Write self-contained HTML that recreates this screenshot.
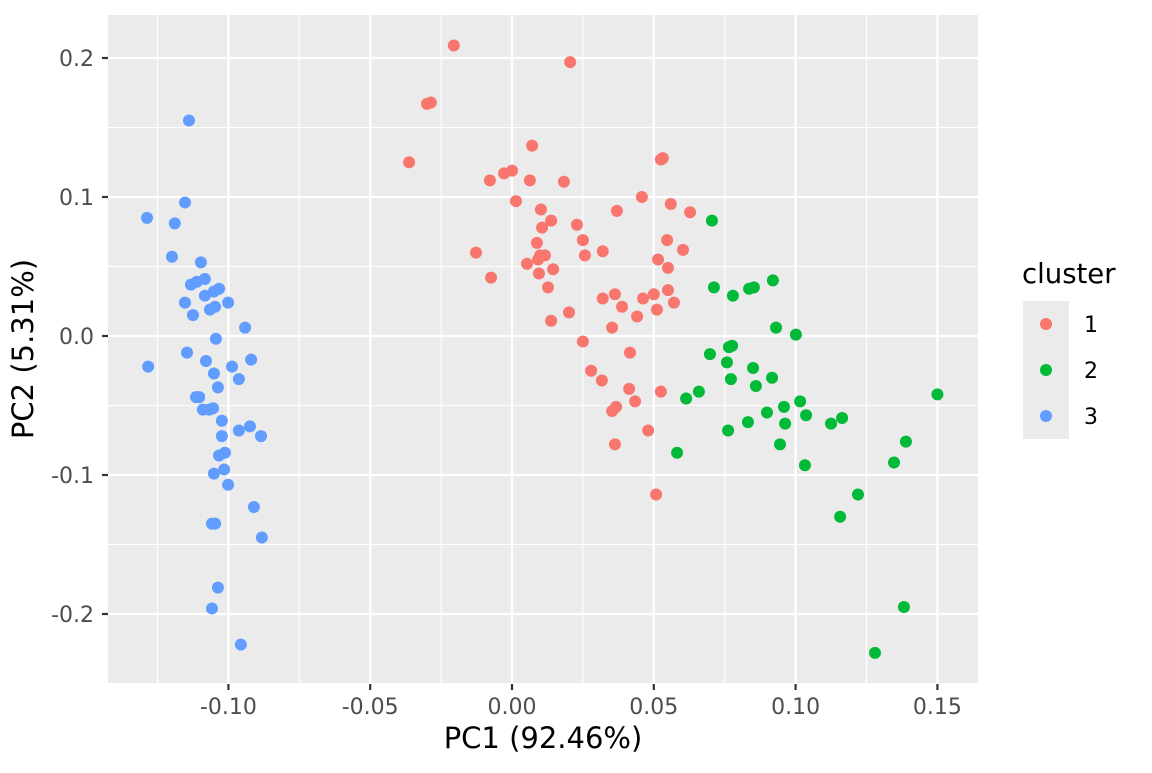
<!DOCTYPE html>
<html><head><meta charset="utf-8"><style>
body{margin:0;background:#fff;}
svg text{font-family:"DejaVu Sans","Liberation Sans",sans-serif;}
</style></head><body>
<svg id="chart" width="1152" height="768" xmlns="http://www.w3.org/2000/svg">
<rect x="108" y="15" width="870" height="669" fill="#ebebeb"/>
<g id="grid"></g><g id="pts"></g><g id="axes"></g>
<text x="543" y="748" font-size="29" text-anchor="middle" fill="#000">PC1 (92.46%)</text>
<text transform="translate(33,349) rotate(-90)" font-size="29" text-anchor="middle" fill="#000">PC2 (5.31%)</text>
<g>
<text x="1022" y="283" font-size="27.5" fill="#000">cluster</text>
<rect x="1023" y="301" width="46" height="138" fill="#ebebeb"/>
<circle cx="1046" cy="324" r="6" fill="#F8766D"/>
<circle cx="1046" cy="370" r="6" fill="#00BA38"/>
<circle cx="1046" cy="416" r="6" fill="#619CFF"/>
<text x="1084" y="332" font-size="22" fill="#000">1</text>
<text x="1084" y="378" font-size="22" fill="#000">2</text>
<text x="1084" y="424" font-size="22" fill="#000">3</text>
</g>
</svg>
<script>
const xTicks=[-0.10,-0.05,0.00,0.05,0.10,0.15];
const xTickLabels=["-0.10","-0.05","0.00","0.05","0.10","0.15"];
const yTicks=[-0.2,-0.1,0.0,0.1,0.2];
const yTickLabels=["-0.2","-0.1","0.0","0.1","0.2"];
const cluster1X=[-0.0205,0.0205,-0.030,-0.0286,-0.0363,0.0071,0.000,-0.0028,-0.0078,0.0063,0.0183,0.0014,0.0102,0.0138,0.0106,0.0229,0.0525,0.0532,0.037,0.0458,0.056,0.0628,0.0547,0.0603,0.025,0.0257,0.032,0.0088,0.0099,0.0053,0.0092,0.0116,-0.0127,-0.0074,0.0095,0.0145,0.0127,0.0138,0.0201,0.032,0.0363,0.0388,0.0441,0.0462,0.050,0.0511,0.055,0.0515,0.055,0.0571,0.0416,0.0353,0.025,0.0279,0.0317,0.0413,0.0434,0.0367,0.0353,0.0363,0.0525,0.048,0.0508];
const cluster1Y=[0.209,0.197,0.167,0.168,0.125,0.137,0.119,0.117,0.112,0.112,0.111,0.097,0.091,0.083,0.078,0.080,0.127,0.128,0.090,0.100,0.095,0.089,0.069,0.062,0.069,0.058,0.061,0.067,0.058,0.052,0.055,0.058,0.060,0.042,0.045,0.048,0.035,0.011,0.017,0.027,0.030,0.021,0.014,0.027,0.030,0.019,0.049,0.055,0.033,0.024,-0.012,0.006,-0.004,-0.025,-0.032,-0.038,-0.047,-0.051,-0.054,-0.078,-0.040,-0.068,-0.114];
const cluster2X=[0.0705,0.0712,0.0779,0.0853,0.0836,0.092,0.1001,0.0931,0.0698,0.0765,0.0776,0.0758,0.0772,0.085,0.086,0.0917,0.0614,0.0659,0.0959,0.0963,0.0899,0.0832,0.0762,0.0945,0.1016,0.1037,0.1125,0.1164,0.1033,0.0582,0.1389,0.1347,0.150,0.122,0.1157,0.1382,0.128];
const cluster2Y=[0.083,0.035,0.029,0.035,0.034,0.040,0.001,0.006,-0.013,-0.008,-0.007,-0.019,-0.031,-0.023,-0.036,-0.030,-0.045,-0.040,-0.051,-0.063,-0.055,-0.062,-0.068,-0.078,-0.047,-0.057,-0.063,-0.059,-0.093,-0.084,-0.076,-0.091,-0.042,-0.114,-0.130,-0.195,-0.228];
const cluster3X=[-0.1139,-0.1287,-0.1189,-0.1153,-0.1199,-0.1283,-0.1097,-0.1153,-0.1132,-0.1111,-0.1083,-0.1125,-0.1083,-0.1051,-0.1033,-0.1001,-0.1065,-0.1047,-0.0941,-0.1044,-0.1146,-0.1079,-0.1051,-0.0987,-0.092,-0.0963,-0.1037,-0.1114,-0.1103,-0.109,-0.1068,-0.1054,-0.1023,-0.1023,-0.0963,-0.0924,-0.0885,-0.1012,-0.1033,-0.1015,-0.1051,-0.1001,-0.091,-0.0882,-0.1058,-0.1047,-0.1037,-0.1058,-0.0956];
const cluster3Y=[0.155,0.085,0.081,0.096,0.057,-0.022,0.053,0.024,0.037,0.039,0.041,0.015,0.029,0.032,0.034,0.024,0.019,0.021,0.006,-0.002,-0.012,-0.018,-0.027,-0.022,-0.017,-0.031,-0.037,-0.044,-0.044,-0.053,-0.053,-0.052,-0.061,-0.072,-0.068,-0.065,-0.072,-0.084,-0.086,-0.096,-0.099,-0.107,-0.123,-0.145,-0.135,-0.135,-0.181,-0.196,-0.222];
const NS="http://www.w3.org/2000/svg";
const xs=v=>512+v*2836, ys=v=>336-v*1390;
function mk(tag,attrs,parent){const e=document.createElementNS(NS,tag);for(const k in attrs)e.setAttribute(k,attrs[k]);parent.appendChild(e);return e;}
const grid=document.getElementById('grid'),axes=document.getElementById('axes'),pts=document.getElementById('pts');
xTicks.forEach((v,i)=>{
  const m=mk('line',{x1:xs(v-0.025),x2:xs(v-0.025),y1:15,y2:684,stroke:'#fff','stroke-width':1.1},grid);
  
  
  const g=mk('line',{x1:xs(v),x2:xs(v),y1:15,y2:684,stroke:'#fff','stroke-width':2.2},grid);
  
  
  const t=mk('line',{x1:xs(v),x2:xs(v),y1:684,y2:690,stroke:'#333','stroke-width':2.2},axes);
  
  
  const l=mk('text',{x:xs(v),y:714,'font-size':22,'text-anchor':'middle',fill:'#4d4d4d'},axes);
  l.textContent=xTickLabels[i];
  
  
});
[0.125].forEach(v=>{const m=mk('line',{x1:xs(v),x2:xs(v),y1:15,y2:684,stroke:'#fff','stroke-width':1.1},grid);
  
  });
[-0.25,-0.15,-0.05,0.05,0.15].forEach(v=>{const m=mk('line',{x1:108,x2:978,y1:ys(v),y2:ys(v),stroke:'#fff','stroke-width':1.1},grid);
  
  });
yTicks.forEach((v,i)=>{
  const g=mk('line',{x1:108,x2:978,y1:ys(v),y2:ys(v),stroke:'#fff','stroke-width':2.2},grid);
  
  
  const t=mk('line',{x1:102,x2:108,y1:ys(v),y2:ys(v),stroke:'#333','stroke-width':2.2},axes);
  
  
  const l=mk('text',{x:94,y:ys(v)+8,'font-size':22,'text-anchor':'end',fill:'#4d4d4d'},axes);
  l.textContent=yTickLabels[i];
  
  
});
[[cluster1X,cluster1Y,'#F8766D','1'],[cluster2X,cluster2Y,'#00BA38','2'],[cluster3X,cluster3Y,'#619CFF','3']].forEach(([X,Y,c,n])=>{
  X.forEach((x,i)=>{const p=mk('circle',{cx:xs(x),cy:ys(Y[i]),r:6,fill:c},pts);
    
    });
});
</script>
</body></html>
